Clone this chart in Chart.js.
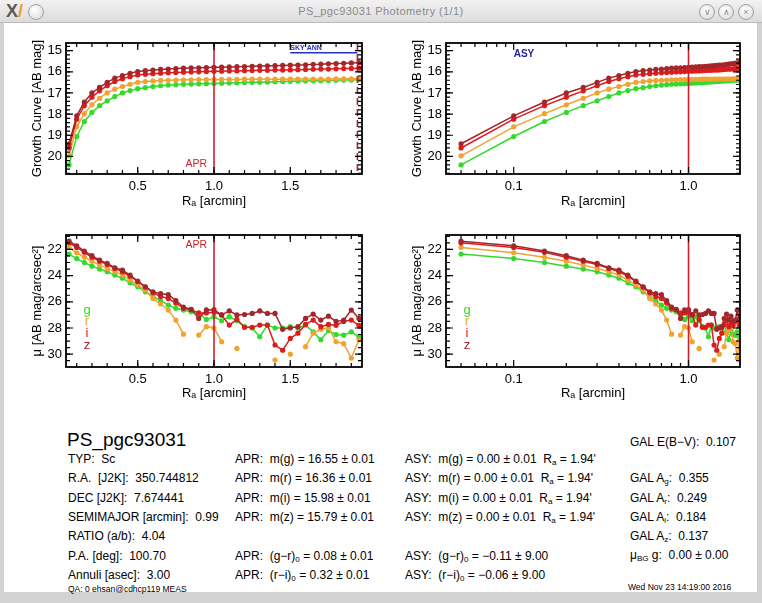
<!DOCTYPE html>
<html>
<head>
<meta charset="utf-8">
<script src="https://cdn.jsdelivr.net/npm/chart.js@4.4.0/dist/chart.umd.min.js"></script>
<style>
body { margin:0; width:762px; height:603px; overflow:hidden; background:#d2d2d2; position:relative; font-family:"Liberation Sans", Arial, sans-serif; }
#bar { position:absolute; left:0; top:0; width:762px; height:22px; background:linear-gradient(#f2f2f2,#dcdcdc); border-bottom:1px solid #bcbcbc; }
#bar .t { position:absolute; left:0; top:5px; width:762px; text-align:center; font-size:11px; color:#8a8a8a; letter-spacing:0.4px; }
.btn { position:absolute; top:4px; width:14px; height:14px; border-radius:50%; border:1px solid #a0a0a0; background:radial-gradient(circle at 40% 35%, #ffffff, #d8d8d8); font-size:9px; line-height:14px; text-align:center; color:#888; }
#logo { position:absolute; left:6px; top:1px; font-size:18px; font-weight:bold; color:#5a5a5a; }
#logo span { color:#e8a030; }
#win { position:absolute; left:4px; top:23px; width:753px; height:569px; background:#fff; }
canvas { position:absolute; }
.tx { position:absolute; font-size:12px; line-height:16px; white-space:pre; color:#000; }
.tx sub { font-size:8px; vertical-align:-2px; line-height:0; }
.sm { font-size:8.5px; }
</style>
</head>
<body>
<div id="bar">
  <div id="logo">X<span>/</span></div>
  <div class="btn" style="left:28px"></div>
  <div class="t">PS_pgc93031 Photometry (1/1)</div>
  <div class="btn" style="left:699px">&#8744;</div>
  <div class="btn" style="left:718px">&#8743;</div>
  <div class="btn" style="left:738px">&#215;</div>
</div>
<div id="win"></div>

<canvas id="gcLin" width="380" height="190" style="left:0;top:30px"></canvas>
<canvas id="gcLog" width="382" height="190" style="left:380px;top:30px"></canvas>
<canvas id="sbLin" width="380" height="190" style="left:0;top:222px"></canvas>
<canvas id="sbLog" width="382" height="190" style="left:380px;top:222px"></canvas>

<div class="tx" style="left:67px;top:429px;font-size:19px;line-height:22px">PS_pgc93031</div>
<div class="tx" style="left:68px;top:451px">TYP:  Sc</div>
<div class="tx" style="left:68px;top:470px">R.A.  [J2K]:  350.744812</div>
<div class="tx" style="left:68px;top:490px">DEC [J2K]:  7.674441</div>
<div class="tx" style="left:68px;top:509px">SEMIMAJOR [arcmin]:  0.99</div>
<div class="tx" style="left:68px;top:528px">RATIO (a/b):  4.04</div>
<div class="tx" style="left:68px;top:548px">P.A. [deg]:  100.70</div>
<div class="tx" style="left:68px;top:567px">Annuli [asec]:  3.00</div>
<div class="tx sm" style="left:68px;top:581px">QA: 0 ehsan@cdhcp119 MEAS</div>

<div class="tx" style="left:235px;top:451px">APR:  m(g) = 16.55 ± 0.01</div>
<div class="tx" style="left:235px;top:470px">APR:  m(r) = 16.36 ± 0.01</div>
<div class="tx" style="left:235px;top:490px">APR:  m(i) = 15.98 ± 0.01</div>
<div class="tx" style="left:235px;top:509px">APR:  m(z) = 15.79 ± 0.01</div>
<div class="tx" style="left:235px;top:548px">APR:  (g−r)<sub>0</sub> = 0.08 ± 0.01</div>
<div class="tx" style="left:235px;top:567px">APR:  (r−i)<sub>0</sub> = 0.32 ± 0.01</div>

<div class="tx" style="left:405px;top:451px">ASY:  m(g) = 0.00 ± 0.01  R<sub>a</sub> = 1.94'</div>
<div class="tx" style="left:405px;top:470px">ASY:  m(r) = 0.00 ± 0.01  R<sub>a</sub> = 1.94'</div>
<div class="tx" style="left:405px;top:490px">ASY:  m(i) = 0.00 ± 0.01  R<sub>a</sub> = 1.94'</div>
<div class="tx" style="left:405px;top:509px">ASY:  m(z) = 0.00 ± 0.01  R<sub>a</sub> = 1.94'</div>
<div class="tx" style="left:405px;top:548px">ASY:  (g−r)<sub>0</sub> = −0.11 ± 9.00</div>
<div class="tx" style="left:405px;top:567px">ASY:  (r−i)<sub>0</sub> = −0.06 ± 9.00</div>

<div class="tx" style="left:630px;top:434px">GAL E(B−V):  0.107</div>
<div class="tx" style="left:630px;top:470px">GAL A<sub>g</sub>:  0.355</div>
<div class="tx" style="left:630px;top:490px">GAL A<sub>r</sub>:  0.249</div>
<div class="tx" style="left:630px;top:509px">GAL A<sub>i</sub>:  0.184</div>
<div class="tx" style="left:630px;top:528px">GAL A<sub>z</sub>:  0.137</div>
<div class="tx" style="left:630px;top:547px">μ<sub>BG</sub> g:  0.00 ± 0.00</div>
<div class="tx sm" style="left:628px;top:579px">Wed Nov 23 14:19:00 2016</div>

<script>
// radios dos aneis (arcmin) - passo de 3 arcsec
var radii = [0.05,0.10,0.15,0.20,0.25,0.30,0.35,0.40,0.45,0.50,
             0.55,0.60,0.65,0.70,0.75,0.80,0.85,0.90,0.95,1.00,
             1.05,1.10,1.15,1.20,1.25,1.30,1.35,1.40,1.45,1.50,
             1.55,1.60,1.65,1.70,1.75,1.80,1.85,1.90,1.95];

// curva de crescimento [AB mag]
var growthZ = [19.40,18.08,17.43,17.00,16.74,16.50,16.30,16.18,16.07,15.99,
               15.95,15.92,15.89,15.87,15.85,15.83,15.82,15.81,15.80,15.79,
               15.78,15.77,15.76,15.75,15.74,15.73,15.72,15.71,15.70,15.69,
               15.68,15.67,15.65,15.64,15.62,15.61,15.60,15.58,15.57];
var growthI = [19.60,18.24,17.60,17.20,16.90,16.66,16.46,16.33,16.23,16.15,
               16.12,16.09,16.07,16.05,16.03,16.02,16.01,16.00,15.99,15.98,
               15.97,15.96,15.96,15.95,15.94,15.93,15.93,15.92,15.92,15.91,
               15.90,15.89,15.88,15.87,15.87,15.86,15.85,15.84,15.83];
var growthR = [19.97,18.60,17.98,17.56,17.25,17.00,16.82,16.70,16.59,16.50,
               16.46,16.43,16.41,16.40,16.39,16.38,16.38,16.37,16.37,16.36,
               16.36,16.36,16.36,16.35,16.35,16.35,16.35,16.35,16.35,16.34,
               16.34,16.34,16.34,16.34,16.34,16.33,16.33,16.33,16.33];
var growthG = [20.40,19.06,18.35,17.92,17.60,17.37,17.17,17.00,16.89,16.80,
               16.75,16.70,16.66,16.63,16.61,16.59,16.58,16.57,16.56,16.55,
               16.54,16.53,16.52,16.51,16.50,16.49,16.48,16.47,16.46,16.45,
               16.44,16.43,16.42,16.42,16.41,16.40,16.39,16.39,16.38];

// brilho superficial [AB mag/arcsec2]
var profZ = [21.37,21.72,22.13,22.48,22.82,23.07,23.40,23.58,23.96,24.42,
             24.85,25.24,25.38,25.45,25.90,26.40,26.58,27.27,26.62,26.60,
             27.00,26.70,27.00,26.97,26.89,26.70,26.89,26.89,28.10,28.00,
             27.90,27.27,26.94,27.40,27.10,27.50,27.40,26.63,27.27];
var profI = [21.50,21.85,22.22,22.60,22.90,23.15,23.45,23.70,24.05,24.45,
             24.88,25.30,25.60,25.74,26.10,26.50,26.60,26.85,26.85,26.80,
             27.00,27.78,27.35,27.95,27.95,27.78,27.78,29.30,29.70,28.80,
             28.40,27.73,27.40,27.90,27.73,27.80,27.50,27.40,27.80];
var profR = [21.85,22.26,22.60,22.90,23.20,23.45,23.70,23.96,24.34,24.70,
             25.10,25.74,26.17,26.63,27.40,28.47,null,28.54,27.90,28.00,
             29.05,null,29.56,null,null,null,null,30.45,null,30.00,
             null,29.43,28.40,28.10,28.00,29.05,29.20,30.30,28.90];
var profG = [22.36,22.70,23.00,23.28,23.50,23.70,23.96,24.20,24.55,24.85,
             25.24,25.60,25.90,26.25,26.50,26.63,26.76,26.90,27.35,27.14,
             27.45,27.14,27.45,27.90,28.00,28.67,27.78,28.00,28.00,27.90,
             28.00,27.78,28.30,28.90,28.20,28.50,28.55,28.30,28.67];

// ticks
var linTicksX = [0.5, 1.0, 1.5];
var logTicksX = [0.1, 1.0];
var growthTicksY = [15, 16, 17, 18, 19, 20];
var profTicksY = [22, 24, 26, 28, 30];

var aprRadius = 1.0;
var skyAnn = [1.5, 1.94];
var skyMag = 15.1;

var bandNames = ['z', 'i', 'r', 'g'];
var bandColors = ['#a3262b', '#dc1c1c', '#f0a232', '#33da2c'];
var aprColor = '#cf1f2a';
var fam = '"Liberation Sans", Arial, sans-serif';

Chart.defaults.font.family = fam;
Chart.defaults.color = '#000';

function minors(lo, hi, step) {
    var out = [];
    for (var v = lo; v <= hi + 1e-9; v += step) out.push(Math.round(v * 1000) / 1000);
    return out;
}

// moldura estilo IDL: caixa + ticks para dentro nos 4 lados
var frame = {
    id: 'frame',
    afterDatasetsDraw: function (chart, args, o) {
        var ctx = chart.ctx, a = chart.chartArea;
        var sx = chart.scales.x, sy = chart.scales.y;
        ctx.save();
        ctx.beginPath();
        ctx.rect(a.left, a.top, a.right - a.left, a.bottom - a.top);
        ctx.clip();

        var xa = sx.getPixelForValue(aprRadius);
        ctx.strokeStyle = aprColor;
        ctx.lineWidth = 1.6;
        ctx.beginPath(); ctx.moveTo(xa, a.top); ctx.lineTo(xa, a.bottom); ctx.stroke();

        if (o.sky) {
            var x1 = sx.getPixelForValue(skyAnn[0]), x2 = sx.getPixelForValue(skyAnn[1]);
            var ys = sy.getPixelForValue(skyMag);
            ctx.strokeStyle = '#a3262b';
            ctx.setLineDash([7, 4]);
            ctx.beginPath(); ctx.moveTo(x2, a.top); ctx.lineTo(x2, a.bottom); ctx.stroke();
            ctx.setLineDash([]);
            ctx.strokeStyle = '#2233c4';
            ctx.lineWidth = 1.5;
            ctx.beginPath(); ctx.moveTo(x1, ys); ctx.lineTo(x2, ys); ctx.stroke();
            ctx.fillStyle = '#2233c4';
            ctx.font = 'bold 7px ' + fam;
            ctx.textAlign = 'left';
            ctx.textBaseline = 'bottom';
            ctx.fillText('SKY ANN', x1, ys - 1);
        }
        ctx.restore();

        ctx.save();
        ctx.strokeStyle = '#000';
        ctx.lineWidth = 1.2;
        function tk(list, len) {
            list.forEach(function (v) {
                if (v > sx.min && v < sx.max) {
                    var p = sx.getPixelForValue(v);
                    ctx.beginPath();
                    ctx.moveTo(p, a.bottom); ctx.lineTo(p, a.bottom - len);
                    ctx.moveTo(p, a.top); ctx.lineTo(p, a.top + len);
                    ctx.stroke();
                }
            });
        }
        function tky(list, len) {
            list.forEach(function (v) {
                if (v > sy.min && v < sy.max) {
                    var p = sy.getPixelForValue(v);
                    ctx.beginPath();
                    ctx.moveTo(a.left, p); ctx.lineTo(a.left + len, p);
                    ctx.moveTo(a.right, p); ctx.lineTo(a.right - len, p);
                    ctx.stroke();
                }
            });
        }
        tk(o.xMajor, 7); tk(o.xMinor, 4);
        tky(o.yMajor, 7); tky(o.yMinor, 4);
        ctx.lineWidth = 1.8;
        ctx.strokeRect(a.left, a.top, a.right - a.left, a.bottom - a.top);

        (o.labels || []).forEach(function (L) {
            ctx.font = L.font + ' ' + fam;
            ctx.fillStyle = L.color;
            ctx.textAlign = L.align;
            ctx.textBaseline = 'middle';
            var px = L.xv != null ? sx.getPixelForValue(L.xv) + L.dx : a.left + L.dx;
            var py = L.from === 'top' ? a.top + L.dy : a.bottom + L.dy;
            ctx.fillText(L.text, px, py);
        });
        if (o.legend) {
            ctx.font = '13px ' + fam;
            ctx.textAlign = 'center';
            ctx.textBaseline = 'middle';
            ['g', 'r', 'i', 'z'].forEach(function (b, k) {
                ctx.fillStyle = bandColors[bandNames.indexOf(b)];
                ctx.fillText(b, a.left + 21, a.top + 75 + k * 11.7);
            });
        }
        ctx.restore();
    }
};

function makePanel(id, isLog, kind) {
    var vals = kind === 'growth' ? [growthZ, growthI, growthR, growthG] : [profZ, profI, profR, profG];
    var datasets = vals.map(function (arr, k) {
        return {
            label: bandNames[k],
            data: radii.map(function (r, j) { return { x: r, y: arr[j] }; }),
            borderColor: bandColors[k],
            backgroundColor: bandColors[k],
            borderWidth: 1.5,
            pointRadius: 2.6,
            pointBorderWidth: 0,
            spanGaps: false
        };
    });
    var yTicks = kind === 'growth' ? growthTicksY : profTicksY;
    var xTicks = isLog ? logTicksX : linTicksX;
    var labels = [];
    if (kind === 'growth' && !isLog) labels.push({ text: 'APR', xv: aprRadius, dx: -7, from: 'bottom', dy: -10, align: 'right', color: aprColor, font: '10.5px' });
    if (kind === 'prof' && !isLog) labels.push({ text: 'APR', xv: aprRadius, dx: -7, from: 'top', dy: 10, align: 'right', color: aprColor, font: '10.5px' });
    if (kind === 'growth' && isLog) labels.push({ text: 'ASY', xv: 0.1, dx: 0, from: 'top', dy: 11, align: 'left', color: '#1f1fa0', font: 'bold 10px' });

    var xMinor = isLog ? [0.05, 0.06, 0.07, 0.08, 0.09, 0.2, 0.3, 0.4, 0.5, 0.6, 0.7, 0.8, 0.9]
                       : minors(0.1, 1.9, 0.1);
    var yMinor = kind === 'growth' ? minors(14.8, 20.8, 0.2) : minors(21, 31, 0.5);

    return new Chart(document.getElementById(id), {
        type: 'line',
        data: { datasets: datasets },
        options: {
            responsive: false,
            animation: false,
            events: [],
            layout: { padding: { left: 25, top: 13, right: isLog ? 22 : 18, bottom: 0 } },
            plugins: {
                legend: { display: false },
                tooltip: { enabled: false },
                frame: { xMajor: xTicks, xMinor: xMinor, yMajor: yTicks, yMinor: yMinor,
                         sky: kind === 'growth' && !isLog, legend: kind === 'prof', labels: labels }
            },
            scales: {
                x: {
                    type: isLog ? 'logarithmic' : 'linear',
                    min: isLog ? 0.041 : 0.03,
                    max: 1.97,
                    afterBuildTicks: function (s) { s.ticks = xTicks.map(function (v) { return { value: v }; }); },
                    afterFit: function (s) { s.height = kind === 'growth' ? 46 : 45; },
                    ticks: { callback: function (v) { return Number(v).toFixed(1); }, font: { size: 13 }, padding: 5, maxRotation: 0, autoSkip: false },
                    grid: { display: false, drawTicks: false },
                    border: { display: false },
                    title: { display: true, text: 'Rₐ [arcmin]', font: { size: 13 }, padding: { top: 0, bottom: 11 } }
                },
                y: {
                    reverse: true,
                    min: kind === 'growth' ? 14.64 : 20.9,
                    max: kind === 'growth' ? 20.83 : 30.98,
                    afterBuildTicks: function (s) { s.ticks = yTicks.map(function (v) { return { value: v }; }); },
                    afterFit: function (s) { s.width = 41; },
                    ticks: { font: { size: 13 }, padding: 4 },
                    grid: { display: false, drawTicks: false },
                    border: { display: false },
                    title: { display: true, text: kind === 'growth' ? 'Growth Curve [AB mag]' : 'μ [AB mag/arcsec²]', font: { size: 13 }, padding: { top: 5, bottom: 0 } }
                }
            }
        },
        plugins: [frame]
    });
}

makePanel('gcLin', false, 'growth');
makePanel('gcLog', true, 'growth');
makePanel('sbLin', false, 'prof');
makePanel('sbLog', true, 'prof');
</script>
</body>
</html>
